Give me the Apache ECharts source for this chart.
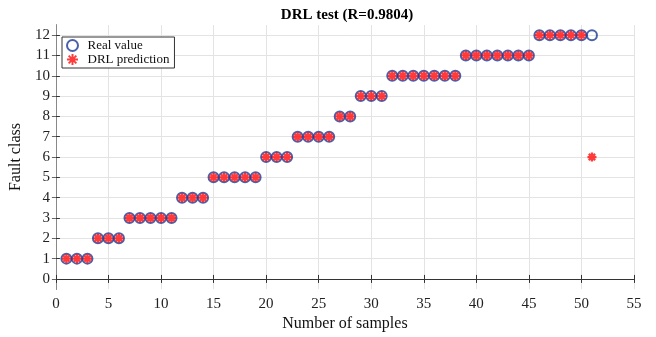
<!DOCTYPE html>
<html>
<head>
<meta charset="utf-8">
<script src="https://cdn.jsdelivr.net/npm/echarts@6/dist/echarts.min.js"></script>
<style>
  html, body { margin: 0; padding: 0; background: #fff; }
  #chart { width: 656px; height: 337px; }
</style>
</head>
<body>
<div id="chart"></div>
<script>
// sample index (x) and fault class values
var samples = [1, 2, 3, 4, 5, 6, 7, 8, 9, 10, 11, 12, 13, 14, 15, 16, 17, 18, 19, 20,
  21, 22, 23, 24, 25, 26, 27, 28, 29, 30, 31, 32, 33, 34, 35, 36, 37, 38, 39, 40,
  41, 42, 43, 44, 45, 46, 47, 48, 49, 50, 51];
var realValue = [1, 1, 1, 2, 2, 2, 3, 3, 3, 3, 3, 4, 4, 4, 5, 5, 5, 5, 5, 6,
  6, 6, 7, 7, 7, 7, 8, 8, 9, 9, 9, 10, 10, 10, 10, 10, 10, 10, 11, 11,
  11, 11, 11, 11, 11, 12, 12, 12, 12, 12, 12];
var drlPrediction = [1, 1, 1, 2, 2, 2, 3, 3, 3, 3, 3, 4, 4, 4, 5, 5, 5, 5, 5, 6,
  6, 6, 7, 7, 7, 7, 8, 8, 9, 9, 9, 10, 10, 10, 10, 10, 10, 10, 11, 11,
  11, 11, 11, 11, 11, 12, 12, 12, 12, 12, 6];
var yTicks = [0, 1, 2, 3, 4, 5, 6, 7, 8, 9, 10, 11, 12];

var font = "'Liberation Serif', 'Times New Roman', serif";
var axisColor = '#333';
var gridColor = '#e3e3e3';
var blue = '#1c3a96';
var red = '#ff0a0a';
var asterisk = 'path://M0,5L10,5M5,0L5,10M1.5,1.5L8.5,8.5M1.5,8.5L8.5,1.5';

function pairs(ys) {
  return samples.map(function (x, i) { return [x, ys[i]]; });
}

var chart = echarts.init(document.getElementById('chart'));
chart.setOption({
  animation: false,
  title: {
    text: 'DRL test (R=0.9804)',
    left: 342, top: 3, textAlign: 'center',
    textStyle: { fontFamily: font, fontSize: 15, fontWeight: 'bold', color: '#000' }
  },
  legend: {
    left: 62, top: 37, orient: 'vertical',
    padding: [2, 5, 2, 4], itemGap: 1,
    itemWidth: 16, itemHeight: 11,
    backgroundColor: '#fff', borderColor: axisColor, borderWidth: 1,
    textStyle: { fontFamily: font, fontSize: 13, color: '#111', padding: [0, 0, 0, 2] },
    data: ['Real value', 'DRL prediction']
  },
  grid: { left: 51, right: 22, top: 25, bottom: 44 },
  xAxis: [{
    type: 'value', min: 0, max: 55, interval: 5,
    name: 'Number of samples', nameLocation: 'middle', nameGap: 24,
    nameTextStyle: { fontFamily: font, fontSize: 16, color: '#111' },
    axisLine: { lineStyle: { color: axisColor } },
    axisTick: { inside: true, length: 4, lineStyle: { color: axisColor } },
    axisLabel: { fontFamily: font, fontSize: 15, color: '#222', margin: 7 },
    splitLine: { show: true, lineStyle: { color: gridColor } }
  }, {
    type: 'value', min: 0, max: 55, interval: 5, position: 'top',
    axisLine: { lineStyle: { color: axisColor } },
    axisTick: { inside: true, length: 4, lineStyle: { color: axisColor } },
    axisLabel: { show: false },
    splitLine: { show: false }
  }],
  yAxis: [{
    type: 'value', min: -0.5, max: 12.5,
    name: 'Fault class', nameLocation: 'middle', nameGap: 30,
    nameTextStyle: { fontFamily: font, fontSize: 16, color: '#111' },
    axisLine: { lineStyle: { color: axisColor } },
    axisTick: { inside: true, length: 4, customValues: yTicks, lineStyle: { color: axisColor } },
    axisLabel: { fontFamily: font, fontSize: 15, color: '#222', margin: 6, customValues: yTicks },
    splitLine: { show: true, customValues: yTicks, lineStyle: { color: gridColor } }
  }, {
    type: 'value', min: -0.5, max: 12.5, position: 'right',
    axisLine: { lineStyle: { color: '#888' } },
    axisTick: { inside: true, length: 4, customValues: yTicks, lineStyle: { color: '#666' } },
    axisLabel: { show: false, customValues: yTicks },
    splitLine: { show: false }
  }],
  series: [{
    name: 'Real value', type: 'scatter',
    symbol: 'circle', symbolSize: 10,
    itemStyle: { color: 'rgba(255,255,255,0)', borderColor: blue, borderWidth: 2 },
    data: pairs(realValue)
  }, {
    name: 'DRL prediction', type: 'scatter',
    symbol: asterisk, symbolSize: 9,
    itemStyle: { color: red, borderColor: red, borderWidth: 2.3 },
    data: pairs(drlPrediction)
  }]
});
</script>
</body>
</html>
